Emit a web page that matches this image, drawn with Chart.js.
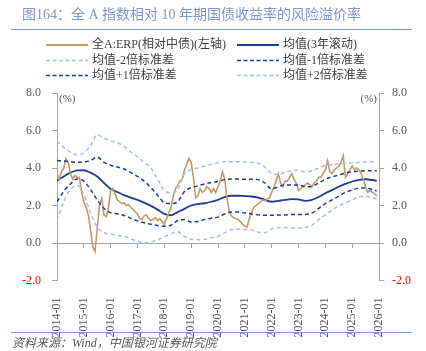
<!DOCTYPE html>
<html>
<head>
<meta charset="utf-8">
<script src="https://cdn.jsdelivr.net/npm/chart.js@4.4.1/dist/chart.umd.min.js"></script>
<style>
  html, body { margin: 0; padding: 0; background: #fff; }
  canvas { display: block; }
</style>
</head>
<body>
<canvas id="erpChart" width="426" height="351"></canvas>
<script>
// 全A ERP，月度
var erpValues = [
  3.7, 3.4, 3.8, 4.0, 4.5, 4.3, 3.7, 3.4, 3.6, 3.5, 3.5, 2.7,
  2.2, 1.9, 1.5, 0.7, -0.2, -0.45, 0.8, 2.0, 2.4, 1.5, 1.4, 1.9,
  2.8, 2.9, 2.6, 2.3, 2.2, 2.1, 2.15, 2.0, 2.05, 1.9, 1.8, 1.65,
  1.55, 1.3, 1.25, 1.45, 1.5, 1.3, 1.2, 1.25, 1.35, 1.2, 1.3, 1.15,
  1.0, 1.3, 1.6, 1.9, 2.5, 2.9, 3.1, 3.3, 3.4, 3.9, 4.2, 4.5,
  4.3, 3.5, 2.4, 2.5, 2.9, 2.7, 2.8, 3.0, 2.9, 2.7, 2.9, 2.7,
  3.0, 3.3, 3.8, 3.4, 2.4, 1.7, 1.45, 1.35, 1.3, 1.25, 1.15, 1.0,
  0.9, 0.85, 1.3, 1.6, 1.9, 2.0, 2.1, 2.2, 2.3, 2.25, 2.35, 2.4,
  2.7, 3.0, 3.3, 3.7, 3.2, 3.0, 3.3, 3.3, 3.5, 3.7, 3.4, 3.2,
  2.8, 2.9, 3.0, 3.1, 3.2, 3.1, 3.0, 3.2, 3.3, 3.5, 3.5, 3.7,
  3.9, 4.4, 3.8, 3.7, 3.9, 4.0, 4.1, 4.3, 4.65, 3.5, 3.7, 3.9,
  4.1, 3.9, 4.0, 3.9, 3.7, 3.4, 3.0, 2.7, 2.8, 2.7, 2.65, 2.5
];

// 均值与标准差带，季度取点
var meanValues = [
  3.32, 3.55, 3.75, 3.87, 3.88, 3.75, 3.55, 3.2, 2.88, 2.72, 2.55, 2.42,
  2.3, 2.15, 1.98, 1.78, 1.55, 1.48, 1.65, 1.82, 2.0, 2.08, 2.12, 2.2,
  2.3, 2.45, 2.52, 2.52, 2.5, 2.48, 2.42, 2.3, 2.2, 2.25, 2.3, 2.34,
  2.33, 2.25, 2.3, 2.45, 2.65, 2.82, 3.0, 3.15, 3.28, 3.37, 3.4, 3.36, 3.32
];
var plus1Values = [
  4.4, 4.37, 4.33, 4.3, 4.32, 4.4, 4.58, 4.3, 4.15, 4.05, 3.95, 3.75,
  3.55, 3.3, 2.95, 2.55, 2.15, 2.1, 2.2, 2.75, 2.95, 3.05, 3.15, 3.22,
  3.28, 3.38, 3.41, 3.41, 3.4, 3.4, 3.38, 3.2, 2.88, 3.0, 3.1, 3.1,
  3.1, 3.0, 3.02, 3.2, 3.4, 3.52, 3.63, 3.73, 3.8, 3.83, 3.85, 3.86, 3.86
];
var minus1Values = [
  2.2, 2.75, 3.15, 3.42, 3.3, 2.85, 2.3, 1.85, 1.62, 1.55, 1.47, 1.32,
  1.18, 1.08, 1.0, 0.93, 0.9, 0.95, 1.2, 1.25, 1.12, 1.15, 1.25, 1.32,
  1.38, 1.55, 1.65, 1.65, 1.6, 1.55, 1.5, 1.48, 1.48, 1.5, 1.5, 1.52,
  1.52, 1.52, 1.6, 1.85, 2.1, 2.3, 2.5, 2.7, 2.82, 2.92, 2.93, 2.85, 2.78
];
var plus2Values = [
  5.45, 5.1, 4.85, 4.7, 4.8, 5.2, 5.78, 5.6, 5.45, 5.35, 5.15, 4.85,
  4.6, 4.3, 4.0, 3.4, 2.8, 2.68, 2.85, 3.7, 3.9, 4.0, 4.1, 4.2,
  4.28, 4.33, 4.34, 4.33, 4.32, 4.3, 4.25, 4.05, 3.7, 3.65, 3.78, 3.85,
  3.88, 3.78, 3.85, 4.0, 4.12, 4.18, 4.22, 4.25, 4.27, 4.3, 4.32, 4.34, 4.34
];
var minus2Values = [
  1.2, 2.2, 2.85, 3.08, 2.6, 1.6, 0.85, 0.55, 0.48, 0.4, 0.35, 0.22,
  0.1, 0.0, 0.05, 0.18, 0.32, 0.5, 0.6, 0.35, 0.2, 0.17, 0.2, 0.28,
  0.35, 0.55, 0.72, 0.73, 0.72, 0.7, 0.58, 0.55, 0.75, 0.82, 0.83, 0.8,
  0.8, 0.83, 0.95, 1.25, 1.5, 1.75, 1.98, 2.15, 2.3, 2.45, 2.5, 2.42, 2.35
];

var yTicks = [-2, 0, 2, 4, 6, 8];
var xTickYears = [2014, 2015, 2016, 2017, 2018, 2019, 2020, 2021, 2022, 2023, 2024, 2025, 2026];

// 月份标签
var erpMonths = [];
for (var y = 2014; y <= 2025; y++) {
  for (var m = 1; m <= 12; m++) erpMonths.push(y + '-' + (m < 10 ? '0' + m : m));
}
var bandMonths = [];
for (var y2 = 2014; y2 <= 2025; y2++) {
  [1, 4, 7, 10].forEach(function(m) { bandMonths.push(y2 + '-' + (m < 10 ? '0' + m : m)); });
}
bandMonths.push('2025-12');

function toYear(s) {
  var p = s.split('-');
  return +p[0] + (+p[1] - 1) / 12;
}
function toPts(months, values) {
  return months.map(function(s, i) { return { x: toYear(s), y: values[i] }; });
}

var SERIF = '"Liberation Serif", "Noto Sans CJK SC", serif';
var BROWN = '#c49a68';
var NAVY = '#1e3c98';
var LIGHT = '#a7bdea';

var legendItems = [
  { text: '全A:ERP(相对中债)(左轴)', color: BROWN, dash: [], width: 2 },
  { text: '均值(3年滚动)', color: NAVY, dash: [], width: 2 },
  { text: '均值-2倍标准差', color: LIGHT, dash: [4, 2.5], width: 1.6 },
  { text: '均值-1倍标准差', color: NAVY, dash: [4, 2.5], width: 1.6 },
  { text: '均值+1倍标准差', color: NAVY, dash: [4, 2.5], width: 1.6 },
  { text: '均值+2倍标准差', color: LIGHT, dash: [4, 2.5], width: 1.6 }
];

var decorPlugin = {
  id: 'decor',
  afterDraw: function(chart) {
    var ctx = chart.ctx;
    ctx.save();
    // 标题
    ctx.fillStyle = '#7d97cf';
    ctx.font = '14px ' + SERIF;
    ctx.textBaseline = 'middle';
    ctx.textAlign = 'left';
    ctx.fillText('图164：全 A 指数相对 10 年期国债收益率的风险溢价率', 22, 15);
    ctx.strokeStyle = '#7d9bd6';
    ctx.lineWidth = 1;
    ctx.beginPath(); ctx.moveTo(11, 29.5); ctx.lineTo(412, 29.5); ctx.stroke();

    // 图例
    ctx.font = '12px ' + SERIF;
    legendItems.forEach(function(it, i) {
      var col = i % 2, row = Math.floor(i / 2);
      var x0 = col === 0 ? 46 : 237;
      var yy = [45, 60.5, 75.5][row];
      ctx.strokeStyle = it.color;
      ctx.lineWidth = it.width;
      ctx.setLineDash(it.dash);
      ctx.beginPath(); ctx.moveTo(x0, yy); ctx.lineTo(x0 + 42, yy); ctx.stroke();
      ctx.setLineDash([]);
      ctx.fillStyle = '#404040';
      ctx.fillText(it.text, x0 + 46, yy);
    });

    // (%)
    ctx.fillStyle = '#595959';
    ctx.font = '11px ' + SERIF;
    ctx.textAlign = 'left';
    ctx.fillText('(%)', 59, 99);
    ctx.textAlign = 'right';
    ctx.fillText('(%)', 377, 99);

    // 底部来源
    ctx.strokeStyle = '#7d9bd6';
    ctx.lineWidth = 1;
    ctx.beginPath(); ctx.moveTo(11, 332.5); ctx.lineTo(412, 332.5); ctx.stroke();
    ctx.fillStyle = '#595959';
    ctx.textAlign = 'left';
    ctx.font = 'italic 12px ' + SERIF;
    ctx.fillText('资料来源：Wind，中国银河证券研究院', 12, 344);
    ctx.restore();
  }
};

function bandSet(label, values, color, width, dash) {
  return {
    label: label,
    data: toPts(bandMonths, values),
    borderColor: color,
    borderWidth: width,
    borderDash: dash,
    pointRadius: 0,
    cubicInterpolationMode: 'monotone',
    fill: false
  };
}

var tickColor = function(c) { return c.tick && c.tick.value === -2 ? '#ff0000' : '#595959'; };

var ctx = document.getElementById('erpChart').getContext('2d');
var erpChart = new Chart(ctx, {
  type: 'line',
  data: {
    datasets: [
      bandSet('均值+2倍标准差', plus2Values, LIGHT, 1.5, [4, 3]),
      bandSet('均值-2倍标准差', minus2Values, LIGHT, 1.5, [4, 3]),
      bandSet('均值+1倍标准差', plus1Values, NAVY, 1.5, [4, 3]),
      bandSet('均值-1倍标准差', minus1Values, NAVY, 1.5, [4, 3]),
      {
        label: '全A:ERP(相对中债)(左轴)',
        data: toPts(erpMonths, erpValues),
        borderColor: BROWN,
        borderWidth: 1.6,
        pointRadius: 0,
        tension: 0,
        fill: false
      },
      bandSet('均值(3年滚动)', meanValues, NAVY, 1.8, [])
    ]
  },
  options: {
    responsive: false,
    animation: false,
    layout: { padding: { top: 93, left: 0, right: 0, bottom: 0 } },
    plugins: { legend: { display: false }, tooltip: { enabled: false } },
    scales: {
      x: {
        type: 'linear', position: 'bottom', min: 2014, max: 2026,
        afterBuildTicks: function(s) { s.ticks = xTickYears.map(function(v) { return { value: v }; }); },
        grid: { display: false },
        border: { display: false },
        ticks: {
          autoSkip: false, minRotation: 90, maxRotation: 90, padding: 9,
          color: '#595959', font: { family: SERIF, size: 12 },
          callback: function(v) { return v + '-01'; }
        },
        afterFit: function(s) { s.height = 70.5; }
      },
      xZero: {
        type: 'linear', position: { y: 0 }, min: 2014, max: 2026,
        afterBuildTicks: function(s) { s.ticks = xTickYears.map(function(v) { return { value: v }; }); },
        grid: { drawOnChartArea: false, tickLength: 4, color: '#a6a6a6' },
        border: { color: '#a6a6a6' },
        ticks: { display: false }
      },
      y: {
        position: 'left', min: -2, max: 8,
        afterBuildTicks: function(s) { s.ticks = yTicks.map(function(v) { return { value: v }; }); },
        grid: { drawOnChartArea: false, tickLength: 5, color: '#a6a6a6' },
        border: { color: '#a6a6a6' },
        ticks: { padding: 11, color: tickColor, font: { family: SERIF, size: 12 },
          callback: function(v) { return v.toFixed(1); } },
        afterFit: function(s) { s.width = 57; }
      },
      y2: {
        position: 'right', min: -2, max: 8,
        afterBuildTicks: function(s) { s.ticks = yTicks.map(function(v) { return { value: v }; }); },
        grid: { drawOnChartArea: false, tickLength: 5, color: '#a6a6a6' },
        border: { color: '#a6a6a6' },
        ticks: { padding: 8, color: tickColor, font: { family: SERIF, size: 12 },
          callback: function(v) { return v.toFixed(1); } },
        afterFit: function(s) { s.width = 47; }
      }
    }
  },
  plugins: [decorPlugin]
});
</script>
</body>
</html>
